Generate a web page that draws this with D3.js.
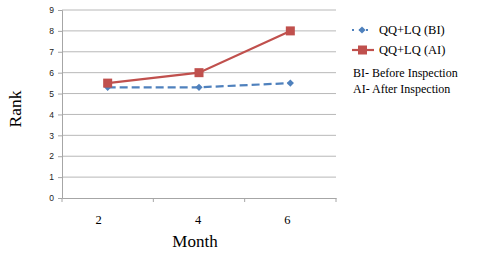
<!DOCTYPE html>
<html lang="en">
<head>
    <meta charset="UTF-8">
    <script src="https://cdn.jsdelivr.net/npm/d3@7"></script>
    <style>
        body { margin: 0; background: #fff; }
        svg { display: block; }
        .serif { font-family: "Liberation Serif", "Times New Roman", serif; fill: #000; }
    </style>
</head>
<body>
<script>
    // chart data
    const months = ["2", "4", "6"];
    const rankBI = [5.3, 5.3, 5.5];
    const rankAI = [5.5, 6, 8];
    const yTicks = [0, 1, 2, 3, 4, 5, 6, 7, 8, 9];
    const seriesNames = ["QQ+LQ (BI)", "QQ+LQ (AI)"];
    const notes = ["BI- Before Inspection", "AI- After Inspection"];

    const W = 480, H = 259;
    const plot = { left: 62, right: 336, top: 10, bottom: 198 };
    const blue = "#4f81bd", red = "#c0504d";

    const svg = d3.select("body").append("svg")
        .attr("width", W)
        .attr("height", H);

    const x = d3.scaleBand().domain(months).range([plot.left, plot.right]);
    const y = d3.scaleLinear().domain([0, 9]).range([plot.bottom, plot.top]);

    // horizontal gridlines
    svg.append("g")
        .selectAll("line")
        .data(yTicks.filter(d => d > 0))
        .enter().append("line")
        .attr("x1", plot.left).attr("x2", plot.right)
        .attr("y1", d => y(d)).attr("y2", d => y(d))
        .attr("stroke", "#b8b8b8").attr("stroke-width", 1);

    // y axis
    const yAxis = svg.append("g")
        .attr("transform", `translate(${plot.left},0)`)
        .call(d3.axisLeft(y).tickValues(yTicks).tickSize(4).tickPadding(4));
    yAxis.select(".domain").attr("stroke", "#a6a6a6");
    yAxis.selectAll(".tick line").attr("stroke", "#a6a6a6");
    yAxis.selectAll("text")
        .attr("font-family", "Liberation Sans, Arial, sans-serif")
        .attr("font-size", 8.5)
        .attr("fill", "#222");

    // x axis
    const xAxis = svg.append("g")
        .attr("transform", `translate(0,${plot.bottom})`)
        .call(d3.axisBottom(x).tickSize(0).tickPadding(17));
    xAxis.select(".domain").attr("stroke", "#a6a6a6");
    xAxis.selectAll("text")
        .attr("class", "serif")
        .attr("font-family", null)
        .attr("font-size", 12.5)
        .attr("dx", (d, i) => [-9, -1, -3][i]);
    // boundary ticks between categories
    xAxis.selectAll(".bound")
        .data(months.concat(["end"]))
        .enter().append("line")
        .attr("x1", (d, i) => i < months.length ? x(d) : plot.right)
        .attr("x2", (d, i) => i < months.length ? x(d) : plot.right)
        .attr("y1", 0).attr("y2", 4)
        .attr("stroke", "#a6a6a6");

    // axis titles
    svg.append("text")
        .attr("class", "serif")
        .attr("x", 195).attr("y", 247)
        .attr("text-anchor", "middle")
        .attr("font-size", 17)
        .text("Month");
    svg.append("text")
        .attr("class", "serif")
        .attr("transform", "translate(21,109) rotate(-90)")
        .attr("text-anchor", "middle")
        .attr("font-size", 17.5)
        .text("Rank");

    const cx = d => x(d) + x.bandwidth() / 2;
    const line = d3.line().x(d => cx(d[0])).y(d => y(d[1]));

    // BI series (dashed, diamonds)
    const bi = months.map((m, i) => [m, rankBI[i]]);
    svg.append("path")
        .attr("d", line(bi))
        .attr("fill", "none")
        .attr("stroke", blue)
        .attr("stroke-width", 2.2)
        .attr("stroke-dasharray", "8,4");
    // diamond = square turned 45 degrees
    const diamond = d3.symbol().type(d3.symbolSquare).size(26);
    svg.append("g").selectAll("path")
        .data(bi)
        .enter().append("path")
        .attr("d", diamond)
        .attr("transform", d => `translate(${cx(d[0])},${y(d[1])}) rotate(45)`)
        .attr("fill", blue);

    // AI series (solid, squares)
    const ai = months.map((m, i) => [m, rankAI[i]]);
    svg.append("path")
        .attr("d", line(ai))
        .attr("fill", "none")
        .attr("stroke", red)
        .attr("stroke-width", 2.2);
    svg.append("g").selectAll("rect")
        .data(ai)
        .enter().append("rect")
        .attr("x", d => cx(d[0]) - 4.5)
        .attr("y", d => y(d[1]) - 4.5)
        .attr("width", 9).attr("height", 9)
        .attr("fill", red);

    // legend
    const lg = svg.append("g");
    lg.append("line")
        .attr("x1", 352).attr("x2", 372).attr("y1", 30).attr("y2", 30)
        .attr("stroke", blue).attr("stroke-width", 2).attr("stroke-dasharray", "2,5");
    lg.append("path")
        .attr("d", diamond)
        .attr("transform", "translate(362,30) rotate(45)")
        .attr("fill", blue);
    lg.append("line")
        .attr("x1", 352).attr("x2", 374).attr("y1", 50).attr("y2", 50)
        .attr("stroke", red).attr("stroke-width", 2.2);
    lg.append("rect")
        .attr("x", 358).attr("y", 45.5).attr("width", 9).attr("height", 9)
        .attr("fill", red);
    lg.selectAll(".name")
        .data(seriesNames)
        .enter().append("text")
        .attr("class", "serif")
        .attr("x", 379)
        .attr("y", (d, i) => 34 + i * 20)
        .attr("font-size", 12.5)
        .text(d => d);
    lg.selectAll(".note")
        .data(notes)
        .enter().append("text")
        .attr("class", "serif")
        .attr("x", 353)
        .attr("y", (d, i) => 76.5 + i * 16.5)
        .attr("font-size", 12)
        .text(d => d);
</script>
</body>
</html>
